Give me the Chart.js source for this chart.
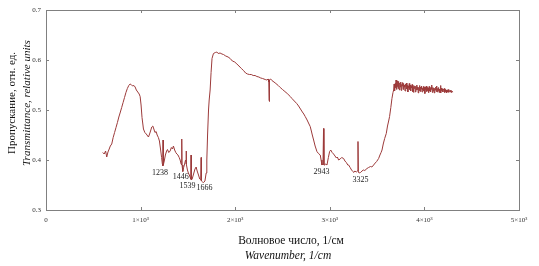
<!DOCTYPE html>
<html>
<head>
<meta charset="utf-8">
<script src="https://cdn.jsdelivr.net/npm/chart.js@4"></script>
<style>
  html, body { margin: 0; padding: 0; background: #fff; }
  #wrap { width: 539px; height: 266px; position: relative; }
</style>
</head>
<body>
<div id="wrap"><canvas id="spectrum"></canvas></div>
<script>
// IR spectrum
const wavenumber = [
  600, 615, 630, 642, 655, 668, 680, 695, 710, 725, 740, 755, 770, 783, 800, 815, 830, 845, 860, 875,
  889, 900, 915, 930, 942, 955, 970, 985, 995, 1005, 1015, 1030, 1045, 1060, 1075, 1083, 1095, 1105, 1118, 1129,
  1140, 1152, 1164, 1175, 1188, 1199, 1212, 1222, 1230, 1236, 1238, 1240, 1250, 1262, 1275, 1284, 1298, 1312, 1325, 1337,
  1347, 1360, 1372, 1383, 1395, 1408, 1418, 1428, 1434, 1436, 1438, 1446, 1455, 1465, 1475, 1481, 1482, 1484, 1495, 1505,
  1515, 1525, 1532, 1534, 1536, 1545, 1560, 1575, 1587, 1598, 1612, 1625, 1636, 1640, 1643, 1655, 1666, 1680, 1693, 1700,
  1708, 1718, 1725, 1735, 1745, 1755, 1770, 1790, 1806, 1820, 1840, 1860, 1876, 1900, 1925, 1947, 1970, 1995, 2018, 2040,
  2065, 2088, 2110, 2130, 2150, 2170, 2190, 2210, 2229, 2250, 2270, 2290, 2317, 2335, 2348, 2355, 2358, 2360, 2362, 2365,
  2375, 2388, 2410, 2430, 2455, 2476, 2500, 2525, 2550, 2582, 2600, 2625, 2650, 2670, 2690, 2710, 2725, 2740, 2760, 2780,
  2793, 2805, 2815, 2829, 2845, 2864, 2880, 2899, 2908, 2917, 2928, 2934, 2938, 2945, 2958, 2970, 2985, 2998, 3010, 3025,
  3040, 3055, 3070, 3080, 3093, 3110, 3125, 3146, 3160, 3175, 3190, 3199, 3215, 3230, 3245, 3252, 3265, 3280, 3292, 3298,
  3302, 3310, 3325, 3340, 3355, 3370, 3393, 3410, 3430, 3445, 3463, 3480, 3495, 3516, 3530, 3542, 3552, 3565, 3580, 3597,
  3610, 3622, 3632, 3645, 3657, 3668, 3675, 3680, 3685, 3692, 3696, 3700, 3705, 3710, 3714, 3718, 3722, 3725, 3730, 3735,
  3740, 3745, 3750, 3755, 3760, 3765, 3770, 3775, 3780, 3785, 3790, 3795, 3800, 3805, 3810, 3815, 3820, 3825, 3830, 3835,
  3840, 3845, 3850, 3855, 3860, 3865, 3870, 3875, 3880, 3885, 3890, 3895, 3900, 3905, 3910, 3915, 3920, 3925, 3930, 3935,
  3940, 3945, 3950, 3955, 3960, 3965, 3970, 3975, 3980, 3985, 3990, 3995, 4000, 4005, 4010, 4015, 4020, 4025, 4030, 4035,
  4040, 4045, 4050, 4055, 4060, 4065, 4070, 4075, 4080, 4085, 4090, 4095, 4100, 4105, 4110, 4115, 4120, 4125, 4130, 4135,
  4140, 4145, 4150, 4155, 4160, 4165, 4170, 4175, 4180, 4185, 4190, 4195, 4200, 4205, 4210, 4215, 4220, 4225, 4230, 4235,
  4240, 4245, 4250, 4255, 4260, 4265, 4270, 4275, 4280, 4285, 4290, 4295, 4303
];
const transmittance = [
  .415, .412, .418, .406, .416, .422, .428, .432, .445, .455, .465, .475, .486, .494, .505, .515, .525, .535, .543, .549,
  .552, .551, .548, .549, .546, .540, .536, .532, .527, .510, .485, .462, .455, .452, .448, .446, .452, .458, .466, .468,
  .462, .455, .457, .450, .445, .438, .420, .405, .392, .388, .440, .390, .398, .410, .418, .421, .415, .418, .425, .422,
  .428, .420, .415, .412, .410, .405, .400, .392, .390, .442, .390, .377, .385, .392, .400, .395, .418, .392, .380, .374,
  .370, .365, .362, .410, .360, .362, .372, .382, .386, .378, .370, .362, .360, .405, .358, .356, .355, .358, .374, .400,
  .450, .500, .520, .540, .575, .603, .613, .615, .616, .613, .614, .612, .611, .608, .606, .603, .598, .596, .592, .588,
  .583, .579, .574, .572, .571, .571, .569, .569, .567, .566, .564, .563, .561, .560, .562, .556, .520, .517, .555, .560,
  .562, .559, .556, .553, .549, .545, .541, .537, .533, .527, .523, .518, .513, .508, .502, .496, .492, .487, .480, .472,
  .467, .458, .450, .440, .428, .417, .413, .410, .400, .390, .392, .463, .390, .390, .392, .390, .405, .417, .420, .415,
  .412, .408, .404, .406, .400, .402, .405, .403, .398, .395, .390, .390, .385, .380, .377, .375, .378, .376, .378, .437,
  .376, .374, .375, .378, .380, .379, .383, .385, .387, .386, .390, .394, .397, .403, .410, .415, .420, .432, .443, .453,
  .468, .478, .487, .505, .523, .535, .540, .552, .538, .553, .545, .560, .541, .556, .547, .558, .543, .552, .557, .540,
  .554, .546, .556, .539, .551, .548, .555, .541, .553, .546, .550, .538, .552, .547, .554, .542, .549, .536, .548, .545,
  .553, .541, .550, .538, .547, .544, .551, .537, .546, .535, .549, .543, .548, .536, .547, .540, .550, .541, .546, .534,
  .545, .539, .549, .537, .546, .542, .548, .536, .544, .540, .547, .538, .545, .533, .546, .541, .548, .537, .545, .539,
  .544, .535, .547, .538, .543, .536, .546, .541, .550, .535, .545, .538, .544, .534, .543, .540, .546, .537, .548, .536,
  .543, .539, .545, .535, .542, .538, .549, .534, .544, .539, .542, .536, .541, .540, .543, .535, .541, .537, .540, .534,
  .539, .536, .541, .535, .540, .537, .539, .536, .540, .535, .538, .537, .536
];
const xTicks = [0, 1000, 2000, 3000, 4000, 5000];
const yTicks = [0.3, 0.4, 0.5, 0.6, 0.7];
const peakLabels = ['1238', '1446', '1539', '1666', '2943', '3325'];
const peakX = [1238, 1446, 1539, 1666, 2943, 3325];
const peakY = [0.388, 0.377, 0.360, 0.355, 0.390, 0.375];

const serif = "'Liberation Serif', 'DejaVu Serif', serif";
const frameColor = '#808080';

function tickText(v) {
    if (v === 0) return '0';
    return (v / 1000) + '×10³';
}

// frame, inner ticks, peak numbers, axis titles
const decorPlugin = {
    id: 'decor',
    afterDraw(chart) {
        const { ctx, chartArea: a, scales } = chart;
        const xs = scales.x, ys = scales.y;
        ctx.save();
        ctx.strokeStyle = frameColor;
        ctx.lineWidth = 1;
        ctx.strokeRect(Math.round(a.left) + 0.5, Math.round(a.top) + 0.5,
            Math.round(a.right - a.left), Math.round(a.bottom - a.top));
        ctx.beginPath();
        xTicks.slice(1, -1).forEach(v => {
            const px = Math.round(xs.getPixelForValue(v)) + 0.5;
            ctx.moveTo(px, a.top); ctx.lineTo(px, a.top + 3);
            ctx.moveTo(px, a.bottom); ctx.lineTo(px, a.bottom - 3);
        });
        yTicks.slice(1, -1).forEach(v => {
            const py = Math.round(ys.getPixelForValue(v)) + 0.5;
            ctx.moveTo(a.left, py); ctx.lineTo(a.left + 3, py);
            ctx.moveTo(a.right, py); ctx.lineTo(a.right - 3, py);
        });
        ctx.stroke();

        ctx.fillStyle = '#222';
        ctx.font = '8px ' + serif;
        ctx.textAlign = 'center';
        ctx.textBaseline = 'top';
        const offs = [[-3, 3], [-2, 1], [-4, 2], [1, 1], [-3, 3], [0, 3]];
        peakLabels.forEach((t, i) => {
            const px = xs.getPixelForValue(peakX[i]) + offs[i][0];
            const py = ys.getPixelForValue(peakY[i]) + offs[i][1];
            ctx.fillText(t, px, py);
        });

        ctx.fillStyle = '#111';
        ctx.textBaseline = 'middle';
        ctx.font = '11.5px ' + serif;
        ctx.fillText('Волновое число, 1/см', 291, 241);
        ctx.font = 'italic 11.5px ' + serif;
        ctx.fillText('Wavenumber, 1/cm', 288, 256);

        ctx.translate(12, 103);
        ctx.rotate(-Math.PI / 2);
        ctx.font = '11px ' + serif;
        ctx.fillText('Пропускание, отн. ед.', 0, 0);
        ctx.font = 'italic 11px ' + serif;
        ctx.fillText('Transmittance, relative units', 0, 15);
        ctx.restore();
    }
};

const points = wavenumber.map((w, i) => ({ x: w, y: transmittance[i] }));

new Chart(document.getElementById('spectrum'), {
    type: 'scatter',
    data: {
        datasets: [{
            data: points,
            showLine: true,
            borderColor: '#9c3a3a',
            borderWidth: 1,
            pointRadius: 0,
            tension: 0
        }]
    },
    options: {
        responsive: true, maintainAspectRatio: false, animation: false,
        layout: { padding: { left: 0, right: 20, top: 10, bottom: 0 } },
        plugins: { legend: { display: false }, tooltip: { enabled: false } },
        scales: {
            x: {
                type: 'linear', min: 0, max: 5000,
                afterBuildTicks: s => { s.ticks = xTicks.map(v => ({ value: v })); },
                afterFit: s => { s.height = 56; },
                grid: { display: false, drawTicks: false },
                border: { display: false },
                ticks: { callback: tickText, padding: 6, maxRotation: 0, color: '#333', font: { family: serif, size: 7 } }
            },
            y: {
                min: 0.3, max: 0.7,
                afterBuildTicks: s => { s.ticks = yTicks.map(v => ({ value: v })); },
                afterFit: s => { s.width = 46; },
                grid: { display: false, drawTicks: false },
                border: { display: false },
                ticks: { callback: v => v.toFixed(1), padding: 5, color: '#333', font: { family: serif, size: 7 } }
            }
        }
    },
    plugins: [decorPlugin]
});
</script>
</body>
</html>
